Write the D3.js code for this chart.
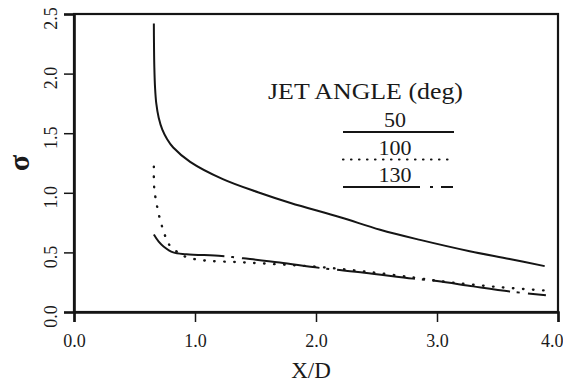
<!DOCTYPE html>
<html>
<head>
<meta charset="utf-8">
<script src="https://cdn.jsdelivr.net/npm/d3@7"></script>
<style>
  html, body { margin: 0; padding: 0; background: #fff; }
  svg { display: block; }
  text { font-family: "Liberation Serif", "Times New Roman", "DejaVu Serif", serif; fill: #1a1a1a; }
</style>
</head>
<body>
<svg id="chart" width="563" height="382"></svg>
<script>
// Axis ticks
const xTicks = [0, 1, 2, 3, 4];
const yTicks = [0, 0.5, 1.0, 1.5, 2.0, 2.5];

// Jet angle 50 deg
const x50 = [0.66, 0.661, 0.664, 0.670, 0.68, 0.70, 0.73, 0.77, 0.82, 0.96, 1.23, 1.52, 1.79, 2.20, 2.53, 2.86, 3.27, 3.60, 3.89];
const s50 = [2.42, 2.25, 2.05, 1.88, 1.75, 1.63, 1.53, 1.45, 1.38, 1.26, 1.115, 1.005, 0.915, 0.795, 0.69, 0.605, 0.51, 0.445, 0.385];

// Jet angle 100 deg
const x100 = [0.66, 0.663, 0.69, 0.73, 0.79, 0.86, 0.93, 1.10, 1.33, 1.60, 2.00, 2.40, 2.80, 3.10, 3.50, 3.90];
const s100 = [1.22, 1.04, 0.87, 0.71, 0.56, 0.50, 0.46, 0.43, 0.42, 0.405, 0.38, 0.34, 0.29, 0.25, 0.21, 0.18];

// Jet angle 130 deg
const x130 = [0.66, 0.70, 0.74, 0.82, 0.93, 1.22, 1.40, 1.70, 2.03, 2.40, 2.80, 3.00, 3.30, 3.62, 3.90];
const s130 = [0.65, 0.59, 0.55, 0.50, 0.485, 0.47, 0.45, 0.415, 0.37, 0.33, 0.28, 0.26, 0.215, 0.17, 0.14];

const seriesNames = ["50", "100", "130"];
const legendTitle = "JET ANGLE (deg)";
const xTitle = "X/D";
const yTitle = "\u03C3";

const svg = d3.select("#chart");
const ink = "#151515";
const serif = "'Liberation Serif', 'Times New Roman', serif";

const x = d3.scaleLinear().domain([0, 4]).range([74, 558]);
const y = d3.scaleLinear().domain([0, 2.5]).range([312, 14]);

// Frame
svg.append("rect")
  .attr("x", x(0)).attr("y", y(2.5))
  .attr("width", x(4) - x(0)).attr("height", y(0) - y(2.5))
  .attr("fill", "none").attr("stroke", ink).attr("stroke-width", 2.2);

// Bottom axis
const gx = svg.append("g").attr("transform", `translate(0,${y(0)})`)
  .call(d3.axisBottom(x).tickValues(xTicks).tickSize(10)
    .tickFormat(d3.format(".1f")));
gx.select(".domain").attr("stroke", ink).attr("stroke-width", 2.6);
gx.selectAll(".tick line").attr("stroke", ink).attr("stroke-width", 1.5);
gx.selectAll(".tick text")
  .style("font-family", serif).style("font-size", "18px")
  .attr("fill", "#1a1a1a").attr("y", 35).attr("dy", null)
  .attr("text-anchor", d => d === 4 ? "end" : "middle")
  .attr("x", d => d === 4 ? 5 : 0);

// Left axis with rotated labels
const gy = svg.append("g").attr("transform", `translate(${x(0)},0)`)
  .call(d3.axisLeft(y).tickValues(yTicks).tickSize(10).tickFormat(d3.format(".1f")));
gy.select(".domain").attr("stroke", ink).attr("stroke-width", 2.6);
gy.selectAll(".tick line").attr("stroke", ink).attr("stroke-width", 1.5);
gy.selectAll(".tick text")
  .style("font-family", serif).style("font-size", "18px")
  .attr("fill", "#1a1a1a")
  .attr("x", null).attr("dy", null)
  .attr("text-anchor", "middle")
  .attr("transform", "translate(-17,4) rotate(-90)");

// Axis titles
svg.append("text")
  .attr("x", 311).attr("y", 378)
  .attr("text-anchor", "middle").attr("font-size", 23)
  .text(xTitle);
svg.append("text")
  .attr("transform", "translate(29,163) rotate(-90)")
  .attr("text-anchor", "middle").attr("font-size", 30).attr("font-weight", "bold")
  .text(yTitle);

// Curves
const line = d3.line()
  .x(d => x(d[0])).y(d => y(d[1]))
  .curve(d3.curveCatmullRom.alpha(0.5));

const plot = svg.append("g");
plot.append("path")
  .attr("d", line(d3.zip(x50, s50)))
  .attr("fill", "none").attr("stroke", ink).attr("stroke-width", 2);
plot.append("path")
  .attr("d", line(d3.zip(x100, s100)))
  .attr("fill", "none").attr("stroke", ink).attr("stroke-width", 2.4)
  .attr("stroke-linecap", "round").attr("stroke-dasharray", "0.5,9.5");
plot.append("path")
  .attr("d", line(d3.zip(x130, s130)))
  .attr("fill", "none").attr("stroke", ink).attr("stroke-width", 2)
  .attr("stroke-dasharray", "78,7,3,8");

// Legend
const lg = svg.append("g");
lg.append("text")
  .attr("x", 268).attr("y", 99)
  .attr("font-size", 23)
  .attr("textLength", 195).attr("lengthAdjust", "spacingAndGlyphs")
  .text(legendTitle);

const legendStyles = [
  { dash: null, cap: "butt", w: 1.8 },
  { dash: "0.5,7.5", cap: "round", w: 2.2 },
  { dash: "77,10,3,8,12", cap: "butt", w: 1.8 }
];
seriesNames.forEach((name, i) => {
  const base = 127 + i * 27.5;
  lg.append("text")
    .attr("x", 395).attr("y", base)
    .attr("text-anchor", "middle").attr("font-size", 22)
    .text(name);
  lg.append("line")
    .attr("x1", 343).attr("x2", 454)
    .attr("y1", base + 5).attr("y2", base + 5)
    .attr("stroke", ink).attr("stroke-width", legendStyles[i].w)
    .attr("stroke-linecap", legendStyles[i].cap)
    .attr("stroke-dasharray", legendStyles[i].dash);
});
</script>
</body>
</html>
